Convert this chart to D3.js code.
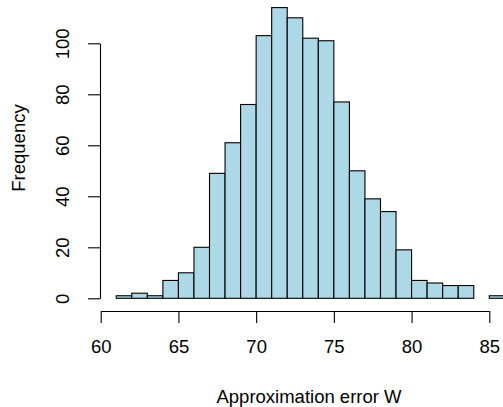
<!DOCTYPE html>
<meta charset="utf-8">
<style>
body {
  margin: 0;
  padding: 0;
  background: #fff;
}
text {
  font-family: "Liberation Sans", Arial, sans-serif;
  fill: #000;
}
</style>
<body>
<script src="https://d3js.org/d3.v7.min.js"></script>
<script>

// histogram bins (width 1) and counts
var binStarts = [61, 62, 63, 64, 65, 66, 67, 68, 69, 70, 71, 72, 73, 74, 75, 76, 77, 78, 79, 80, 81, 82, 83, 84, 85];
var counts    = [ 1,  2,  1,  7, 10, 20, 49, 61, 76, 103, 114, 110, 102, 101, 77, 50, 39, 34, 19,  7,  6,  5,  5,  0,  1];
var xTicks = [60, 65, 70, 75, 80, 85];
var yTicks = [0, 20, 40, 60, 80, 100];
var xTitle = "Approximation error W";
var yTitle = "Frequency";

var width = 503,
    height = 407,
    fontSize = 18.5;

var x = d3.scaleLinear().domain([60, 85]).range([100.7, 489.3]);
var y = d3.scaleLinear().domain([0, 100]).range([298.3, 43.3]);

var svg = d3.select("body").append("svg")
    .attr("width", width)
    .attr("height", height);

// bars
svg.append("g")
  .selectAll("rect")
  .data(binStarts)
  .join("rect")
    .attr("x", function(d) { return x(d); })
    .attr("y", function(d, i) { return y(counts[i]); })
    .attr("width", function(d) { return x(d + 1) - x(d); })
    .attr("height", function(d, i) { return y(0) - y(counts[i]); })
    .style("fill", "#add8e6")
    .style("stroke", "#000")
    .style("stroke-width", 1.1);

// x axis, offset below the plot like R
var xAxis = svg.append("g")
    .attr("transform", "translate(0,311)")
    .call(d3.axisBottom(x).tickValues(xTicks).tickSize(12).tickSizeOuter(0).tickPadding(17));
xAxis.selectAll("path, line").style("stroke", "#000").style("stroke-width", 1.1);
xAxis.selectAll("text").style("font-size", fontSize + "px").style("font-family", "Liberation Sans, Arial, sans-serif");

// y axis with rotated labels
var yAxis = svg.append("g")
    .attr("transform", "translate(100,0)")
    .call(d3.axisLeft(y).tickValues(yTicks).tickSize(12).tickSizeOuter(0));
yAxis.selectAll("path, line").style("stroke", "#000").style("stroke-width", 1.1);
yAxis.selectAll("text")
    .attr("transform", "rotate(-90)")
    .attr("x", 0)
    .attr("y", -31)
    .attr("dy", 0)
    .attr("text-anchor", "middle")
    .style("font-size", fontSize + "px")
    .style("font-family", "Liberation Sans, Arial, sans-serif");

// axis titles
svg.append("text")
    .attr("x", 309)
    .attr("y", 403)
    .attr("text-anchor", "middle")
    .style("font-size", fontSize + "px")
    .text(xTitle);

svg.append("text")
    .attr("transform", "translate(25,148) rotate(-90)")
    .attr("text-anchor", "middle")
    .style("font-size", fontSize + "px")
    .text(yTitle);

</script>
